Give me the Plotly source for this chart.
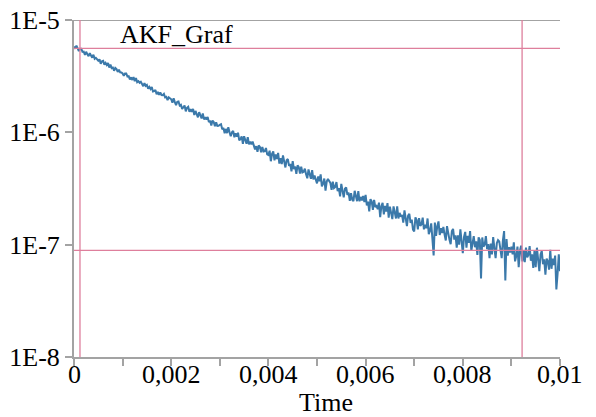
import plotly.graph_objects as go

# Sampling of the recorded signal (time step in seconds)
dt = 0.000025
# Signal values in units of 1e-9 (one value every 0.025 ms)
signal_nano = [
    5800, 5554, 5906, 5550, 5284, 5539, 5542, 5202, 5233, 4902,
    5211, 4944, 4757, 5060, 4801, 4618, 4906, 4515, 4610, 4456,
    4347, 4466, 4085, 4286, 4335, 4008, 4157, 3979, 4141, 3769,
    4004, 3725, 3771, 3535, 3744, 3658, 3448, 3611, 3421, 3407,
    3341, 3182, 3337, 3342, 3138, 3160, 2961, 3089, 2925, 3106,
    2856, 3037, 2797, 2859, 2765, 2824, 2678, 2574, 2735, 2592,
    2644, 2446, 2540, 2432, 2534, 2308, 2324, 2385, 2179, 2285,
    2162, 2267, 2150, 2144, 2200, 2045, 2068, 1939, 2051, 2003,
    1971, 1838, 2013, 1857, 1742, 1871, 1883, 1733, 1758, 1613,
    1660, 1733, 1537, 1654, 1688, 1521, 1610, 1522, 1618, 1427,
    1550, 1437, 1360, 1513, 1403, 1330, 1475, 1304, 1360, 1299,
    1373, 1233, 1267, 1152, 1273, 1237, 1135, 1231, 1140, 1142,
    1167, 1182, 1067, 1093, 982, 1073, 984, 1108, 1002, 924,
    1000, 1030, 905, 978, 915, 993, 849, 870, 921, 791,
    924, 845, 792, 905, 780, 826, 783, 827, 754, 705,
    754, 672, 764, 741, 666, 742, 676, 681, 725, 636,
    627, 686, 553, 644, 676, 564, 635, 580, 657, 527,
    587, 521, 623, 544, 487, 565, 578, 503, 523, 449,
    554, 470, 496, 426, 508, 489, 429, 495, 440, 446,
    474, 424, 390, 468, 418, 386, 461, 381, 412, 386,
    351, 405, 367, 423, 330, 349, 388, 303, 364, 385,
    370, 355, 307, 363, 319, 326, 361, 299, 319, 269,
    348, 299, 264, 315, 324, 277, 291, 245, 288, 251,
    244, 302, 267, 244, 300, 243, 266, 248, 271, 239,
    278, 224, 242, 198, 254, 243, 204, 250, 216, 221,
    207, 237, 176, 220, 236, 186, 221, 197, 234, 174,
    218, 188, 169, 219, 189, 171, 219, 171, 192, 177,
    184, 157, 202, 170, 146, 181, 188, 156, 167, 136,
    131, 175, 166, 137, 172, 147, 152, 174, 137, 150,
    140, 171, 124, 133, 155, 112, 80, 157, 120, 146,
    161, 122, 140, 127, 144, 123, 109, 146, 124, 111,
    101, 132, 138, 111, 121, 94, 121, 100, 137, 111,
    84, 117, 130, 94, 120, 104, 132, 88, 99, 119,
    95, 107, 81, 116, 110, 50, 116, 96, 100, 119,
    91, 101, 76, 102, 82, 117, 93, 76, 103, 110,
    107, 88, 76, 109, 132, 48, 112, 80, 95, 85,
    96, 82, 105, 71, 79, 96, 63, 88, 98, 71,
    89, 70, 94, 77, 81, 97, 72, 82, 62, 89,
    63, 94, 73, 58, 82, 88, 67, 74, 54, 75,
    71, 60, 90, 61, 75, 66, 80, 40, 55, 82,
    58,
]
time = [i * dt for i in range(len(signal_nano))]
signal = [v * 1e-9 for v in signal_nano]

# Cursor positions
cursor_t = [0.000123, 0.00922]
cursor_y = [5.59e-6, 8.91e-8]

x_ticks = [0, 0.001, 0.002, 0.003, 0.004, 0.005, 0.006, 0.007, 0.008, 0.009, 0.01]
x_labels = ["0", "", "0,002", "", "0,004", "", "0,006", "", "0,008", "", "0,01"]
y_ticks = [1e-8, 1e-7, 1e-6, 1e-5]
y_labels = ["1E-8", "1E-7", "1E-6", "1E-5"]

PINK = "#de7f9c"
GRAY = "#a3a3a3"
FONT = "Liberation Serif"
FS = 26

fig = go.Figure()
fig.add_trace(go.Scatter(x=time, y=signal, mode="lines",
                         line=dict(color="#3b79aa", width=2),
                         hoverinfo="skip", showlegend=False))

# top frame line
fig.add_shape(type="line", xref="x", yref="y", x0=0, x1=0.01, y0=1e-5, y1=1e-5,
              line=dict(color=GRAY, width=2))
for yv in cursor_y:
    fig.add_shape(type="line", xref="x", yref="y", x0=0, x1=0.01, y0=yv, y1=yv,
                  line=dict(color=PINK, width=1.3))
for tv in cursor_t:
    fig.add_shape(type="line", xref="x", yref="paper", x0=tv, x1=tv, y0=0, y1=1,
                  line=dict(color=PINK, width=1.3))

fig.add_annotation(text="AKF_Graf", xref="paper", yref="paper", x=0.09, y=1.005,
                   xanchor="left", yanchor="top", showarrow=False,
                   font=dict(family=FONT, size=FS, color="#000000"))
fig.add_annotation(text="Time", xref="paper", yref="paper", x=0.519, y=-0.135,
                   xanchor="center", yanchor="middle", showarrow=False,
                   font=dict(family=FONT, size=FS, color="#000000"))
# x tick labels (placed as text under each labelled tick)
for tv, lab in zip(x_ticks, x_labels):
    if lab:
        fig.add_annotation(text=lab, xref="x", yref="paper", x=tv, y=-0.0534,
                           xanchor="center", yanchor="middle", showarrow=False,
                           font=dict(family=FONT, size=FS, color="#000000"))

fig.update_layout(
    width=596, height=417,
    margin=dict(l=74, r=36, t=20, b=60),
    paper_bgcolor="white", plot_bgcolor="white",
    font=dict(family=FONT, size=FS, color="#000000"),
    xaxis=dict(range=[0, 0.01], tickvals=x_ticks, showticklabels=False, automargin=False,
               showgrid=False, zeroline=False, showline=True, linecolor=GRAY,
               linewidth=2, ticks="outside", ticklen=7, tickcolor=GRAY, tickwidth=1.5),
    yaxis=dict(type="log", range=[-8, -5], tickvals=y_ticks, ticktext=y_labels,
               automargin=False,
               showgrid=False, zeroline=False, showline=True, linecolor=GRAY,
               linewidth=2, ticks="outside", ticklen=7, tickcolor=GRAY, tickwidth=1.5,
               tickfont=dict(family=FONT, size=FS)),
)

fig.write_html("out.html")
